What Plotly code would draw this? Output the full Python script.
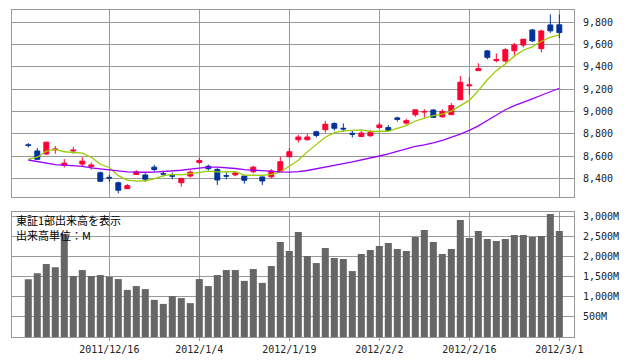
import plotly.graph_objects as go

dates = ["2011/12/5", "2011/12/6", "2011/12/7", "2011/12/8", "2011/12/9",
         "2011/12/12", "2011/12/13", "2011/12/14", "2011/12/15", "2011/12/16",
         "2011/12/19", "2011/12/20", "2011/12/21", "2011/12/22", "2011/12/26",
         "2011/12/27", "2011/12/28", "2011/12/29", "2011/12/30", "2012/1/4",
         "2012/1/5", "2012/1/6", "2012/1/10", "2012/1/11", "2012/1/12",
         "2012/1/13", "2012/1/16", "2012/1/17", "2012/1/18", "2012/1/19",
         "2012/1/20", "2012/1/23", "2012/1/24", "2012/1/25", "2012/1/26",
         "2012/1/27", "2012/1/30", "2012/1/31", "2012/2/1", "2012/2/2",
         "2012/2/3", "2012/2/6", "2012/2/7", "2012/2/8", "2012/2/9",
         "2012/2/10", "2012/2/13", "2012/2/14", "2012/2/15", "2012/2/16",
         "2012/2/17", "2012/2/20", "2012/2/21", "2012/2/22", "2012/2/23",
         "2012/2/24", "2012/2/27", "2012/2/28", "2012/2/29", "2012/3/1"]

open_ = [8700, 8645, 8618, 8655, 8515, 8645, 8528, 8505, 8450, 8408,
         8360, 8307, 8435, 8430, 8500, 8441, 8423, 8360, 8420, 8542,
         8508, 8480, 8423, 8430, 8420, 8459, 8412, 8413, 8460, 8593,
         8746, 8746, 8817, 8836, 8891, 8849, 8804, 8775, 8782, 8856,
         8855, 8942, 8895, 8970, 8994, 9012, 8952, 8971, 9105, 9230,
         9366, 9543, 9456, 9452, 9544, 9595, 9731, 9563, 9776, 9777]
high = [8716, 8672, 8726, 8690, 8573, 8681, 8590, 8541, 8460, 8430,
        8370, 8348, 8472, 8445, 8520, 8467, 8452, 8400, 8472, 8585,
        8523, 8490, 8455, 8465, 8422, 8511, 8415, 8482, 8592, 8670,
        8790, 8797, 8827, 8915, 8903, 8893, 8825, 8826, 8832, 8900,
        8878, 8953, 8935, 9015, 9021, 9022, 9020, 9075, 9318, 9308,
        9432, 9552, 9520, 9568, 9614, 9652, 9740, 9733, 9870, 9870]
low = [8676, 8564, 8609, 8620, 8497, 8620, 8508, 8477, 8365, 8368,
       8265, 8305, 8430, 8367, 8462, 8415, 8391, 8325, 8407, 8530,
       8470, 8340, 8390, 8418, 8352, 8445, 8340, 8400, 8457, 8590,
       8720, 8738, 8766, 8810, 8828, 8818, 8766, 8772, 8772, 8842,
       8826, 8910, 8882, 8952, 8943, 8942, 8944, 8968, 9103, 9150,
       9364, 9466, 9440, 9438, 9506, 9575, 9622, 9530, 9705, 9660]
close = [8695, 8570, 8724, 8662, 8536, 8652, 8554, 8520, 8374, 8403,
         8293, 8334, 8458, 8392, 8478, 8438, 8420, 8399, 8455, 8560,
         8486, 8385, 8420, 8448, 8382, 8500, 8376, 8466, 8549, 8638,
         8770, 8770, 8785, 8885, 8849, 8843, 8796, 8806, 8810, 8878,
         8831, 8929, 8917, 9014, 8999, 8947, 8999, 9053, 9262, 9237,
         9384, 9485, 9464, 9554, 9596, 9648, 9633, 9722, 9723, 9707]

ma5 = [8572, 8589, 8644, 8660, 8638, 8630, 8626, 8588, 8526, 8497,
       8424, 8384, 8375, 8378, 8395, 8424, 8436, 8430, 8440, 8456,
       8464, 8458, 8462, 8460, 8428, 8430, 8427, 8436, 8458, 8508,
       8561, 8637, 8701, 8768, 8810, 8825, 8830, 8834, 8820, 8824,
       8822, 8849, 8872, 8914, 8939, 8962, 8976, 9003, 9052, 9099,
       9187, 9284, 9366, 9425, 9496, 9549, 9579, 9630, 9664, 9686]
ma25 = [8564, 8548, 8532, 8522, 8519, 8515, 8506, 8494, 8483, 8475,
        8466, 8457, 8454, 8454, 8455, 8459, 8466, 8472, 8482, 8494,
        8500, 8500, 8497, 8488, 8478, 8472, 8464, 8459, 8457, 8456,
        8459, 8470, 8484, 8498, 8517, 8532, 8547, 8563, 8580, 8600,
        8620, 8642, 8665, 8686, 8700, 8717, 8741, 8767, 8796, 8830,
        8870, 8918, 8968, 9015, 9052, 9080, 9113, 9145, 9176, 9208]

volume = [1440, 1590, 1820, 1740, 2575, 1520, 1670, 1520, 1545, 1500,
          1445, 1175, 1270, 1195, 925, 825, 1020, 970, 845, 1445,
          1270, 1545, 1670, 1670, 1400, 1695, 1350, 1770, 2370, 2145,
          2620, 2020, 1845, 2220, 1970, 1945, 1645, 2070, 2170, 2270,
          2345, 2195, 2145, 2495, 2670, 2370, 2070, 2195, 2920, 2470,
          2645, 2445, 2395, 2445, 2545, 2545, 2495, 2520, 3070, 2645]

x_ticks = ["2011/12/16", "2012/1/4", "2012/1/19", "2012/2/2", "2012/2/16", "2012/3/1"]
price_ticks = [8400, 8600, 8800, 9000, 9200, 9400, 9600, 9800]
vol_ticks = [500, 1000, 1500, 2000, 2500, 3000]
vol_tick_text = ["500M", "1,000M", "1,500M", "2,000M", "2,500M", "3,000M"]
note_lines = ["東証1部出来高を表示", "出来高単位：M"]

RED = "#FF0033"
BLUE = "#003399"
GRID = "#999999"
TICKFONT = dict(family="DejaVu Sans Mono", size=10, color="#222222")

fig = go.Figure()
fig.add_trace(go.Candlestick(
    x=dates, open=open_, high=high, low=low, close=close,
    increasing=dict(line=dict(color=RED, width=1), fillcolor=RED),
    decreasing=dict(line=dict(color=BLUE, width=1), fillcolor=BLUE),
    whiskerwidth=0, xaxis="x", yaxis="y", showlegend=False, hoverinfo="skip"))
fig.add_trace(go.Scatter(x=dates, y=ma5, mode="lines",
                         line=dict(color="#99CC00", width=1.3),
                         xaxis="x", yaxis="y", showlegend=False, hoverinfo="skip"))
fig.add_trace(go.Scatter(x=dates, y=ma25, mode="lines",
                         line=dict(color="#9900FF", width=1.3),
                         xaxis="x", yaxis="y", showlegend=False, hoverinfo="skip"))
fig.add_trace(go.Bar(x=dates, y=volume, marker=dict(color="#666666", line=dict(width=0)),
                     xaxis="x2", yaxis="y2", showlegend=False, hoverinfo="skip"))

xrange = [-1.81, 60.63]
common_x = dict(type="category", categoryorder="array", categoryarray=dates,
                range=xrange, autorange=False, tickmode="array", tickvals=x_ticks,
                showgrid=True, gridcolor=GRID, gridwidth=1,
                showline=True, linecolor=GRID, linewidth=1, mirror=True,
                zeroline=False, fixedrange=True)

# page body has an 8px margin, so the figure is sized to fill the rest of the window
fig.update_layout(
    width=630, height=354,
    margin=dict(l=4, r=64, t=2, b=25, pad=0),
    paper_bgcolor="white", plot_bgcolor="white",
    bargap=0.22, boxgap=0.22,
    xaxis=dict(**common_x, anchor="y", domain=[0, 1], showticklabels=False,
               rangeslider=dict(visible=False)),
    xaxis2=dict(**common_x, anchor="y2", domain=[0, 1], showticklabels=True,
                ticktext=x_ticks, tickfont=TICKFONT, ticks="outside",
                ticklen=3, tickcolor=GRID),
    yaxis=dict(domain=[0.4281, 1], range=[8232, 9910], side="right",
               tickmode="array", tickvals=price_ticks, tickformat=",",
               tickfont=TICKFONT, ticklabelstandoff=6,
               showgrid=True, gridcolor=GRID, gridwidth=1,
               showline=True, linecolor=GRID, linewidth=1, mirror=True,
               zeroline=False, anchor="x", fixedrange=True),
    yaxis2=dict(domain=[0, 0.3813], range=[0, 3110], side="right",
                tickmode="array", tickvals=vol_ticks, ticktext=vol_tick_text,
                tickfont=TICKFONT, ticklabelstandoff=6,
                showgrid=True, gridcolor=GRID, gridwidth=1,
                showline=True, linecolor=GRID, linewidth=1, mirror=True,
                zeroline=False, anchor="x2", fixedrange=True),
)

for line, yp in zip(note_lines, [0.3593, 0.3104]):
    fig.add_annotation(text=line, xref="paper", yref="paper", x=0.004, y=yp,
                       xanchor="left", yanchor="middle", showarrow=False,
                       font=dict(family="Noto Sans CJK JP", size=11, color="#000000"))

fig.write_html("out.html")
